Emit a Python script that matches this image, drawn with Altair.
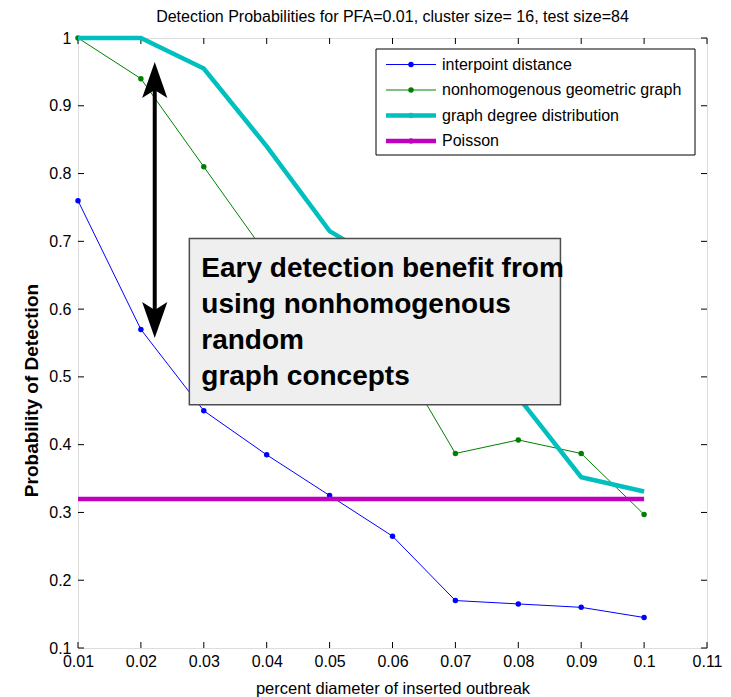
import altair as alt
import pandas as pd

# ---- data ----
x_vals = [0.01, 0.02, 0.03, 0.04, 0.05, 0.06, 0.07, 0.08, 0.09, 0.10]
interpoint = [0.76, 0.57, 0.45, 0.385, 0.325, 0.265, 0.17, 0.165, 0.16, 0.145]
nonhomog = [1.0, 0.94, 0.81, 0.68, 0.61, 0.545, 0.387, 0.407, 0.387, 0.297]
degree = [1.0, 1.0, 0.955, 0.84, 0.715, 0.66, 0.56, 0.47, 0.352, 0.331]
poisson = [0.32, 0.32, 0.32, 0.32, 0.32, 0.32, 0.32, 0.32, 0.32, 0.32]

series_names = ["interpoint distance", "nonhomogenous geometric graph",
                "graph degree distribution", "Poisson"]
series_values = [interpoint, nonhomog, degree, poisson]
series_colors = ["#0000ff", "#008000", "#00bfbf", "#bf00bf"]
series_widths = [1, 1, 4.5, 4.5]
series_dots = [True, True, False, False]

x_ticks = [0.01, 0.02, 0.03, 0.04, 0.05, 0.06, 0.07, 0.08, 0.09, 0.1, 0.11]
y_ticks = [0.1, 0.2, 0.3, 0.4, 0.5, 0.6, 0.7, 0.8, 0.9, 1]

chart_title = "Detection Probabilities for PFA=0.01, cluster size= 16, test size=84"
x_title = "percent diameter of inserted outbreak"
y_title = "Probability of Detection"

note_lines = ["Eary detection benefit from", "using nonhomogenous", "random", "graph concepts"]
note_anchor = [0.0296, 0.648]
note_box_x = [0.0277, 0.0867]
note_box_y = [0.459, 0.704]

arrow_x = [0.0222]
arrow_shaft = [0.945, 0.575]
arrow_heads = [0.938, 0.584]

# ---- layout ----
W, H = 629, 610
FONT = "Liberation Sans"

xscale = alt.Scale(domain=[0.01, 0.11], nice=False, zero=False)
yscale = alt.Scale(domain=[0.1, 1.0], nice=False, zero=False)

x_axis = alt.Axis(values=x_ticks, format="~g", title=x_title, ticks=False, domain=False,
                  grid=False, labelFontSize=16, labelPadding=5, labelColor="black",
                  labelFont=FONT, titleFont=FONT, titleFontSize=16.5, titleFontWeight="normal",
                  titleColor="black", titleY=40, titleBaseline="middle", labelFlush=False)
y_axis = alt.Axis(values=y_ticks, format="~g", title=y_title, ticks=False, domain=False,
                  grid=False, labelFontSize=16, labelPadding=7, labelColor="black",
                  labelFont=FONT, titleFont=FONT, titleFontSize=19, titleFontWeight="bold",
                  titleColor="black", titleX=-47, titleY=352, titleAngle=270,
                  titleAlign="center", titleBaseline="middle", labelFlush=False)


def X(field):
    return alt.X(field, type="quantitative", scale=xscale, axis=x_axis)


def Y(field):
    return alt.Y(field, type="quantitative", scale=yscale, axis=y_axis)


layers = []

# inward ticks (MATLAB style box)
xt = pd.DataFrame({"t": x_ticks})
yt = pd.DataFrame({"t": y_ticks})
rule_style = dict(color="black", strokeWidth=1)
layers.append(alt.Chart(xt).mark_rule(**rule_style).encode(x=X("t"), y=alt.value(H), y2=alt.value(H - 6)))
layers.append(alt.Chart(xt).mark_rule(**rule_style).encode(x=X("t"), y=alt.value(0), y2=alt.value(6)))
layers.append(alt.Chart(yt).mark_rule(**rule_style).encode(y=Y("t"), x=alt.value(0), x2=alt.value(6)))
layers.append(alt.Chart(yt).mark_rule(**rule_style).encode(y=Y("t"), x=alt.value(W), x2=alt.value(W - 6)))

# series
for name, vals, col, wd, dots in zip(series_names, series_values, series_colors,
                                     series_widths, series_dots):
    df = pd.DataFrame({"x": x_vals, "y": vals})
    layers.append(alt.Chart(df).mark_line(color=col, strokeWidth=wd).encode(x=X("x"), y=Y("y")))
    if dots:
        layers.append(alt.Chart(df).mark_circle(color=col, size=30, opacity=1).encode(x=X("x"), y=Y("y")))

# arrow
arr = pd.DataFrame({"x": arrow_x, "y": [arrow_shaft[0]], "y2": [arrow_shaft[1]]})
layers.append(alt.Chart(arr).mark_rule(color="black", strokeWidth=4).encode(
    x=X("x"), y=Y("y"), y2="y2"))
heads = pd.DataFrame({"x": arrow_x * 2, "y": arrow_heads, "dir": ["up", "down"]})
up_path = "M0,-1 L0.7,1 L0,0.55 L-0.7,1 Z"
down_path = "M0,1 L0.7,-1 L0,-0.55 L-0.7,-1 Z"
layers.append(alt.Chart(heads[heads["dir"] == "up"]).mark_point(
    shape=up_path, filled=True, color="black", opacity=1, size=1296, strokeWidth=0).encode(
    x=X("x"), y=Y("y")))
layers.append(alt.Chart(heads[heads["dir"] == "down"]).mark_point(
    shape=down_path, filled=True, color="black", opacity=1, size=1296, strokeWidth=0).encode(
    x=X("x"), y=Y("y")))

# annotation box
box = pd.DataFrame({"x": [note_box_x[0]], "x2": [note_box_x[1]],
                    "y": [note_box_y[0]], "y2": [note_box_y[1]]})
layers.append(alt.Chart(box).mark_rect(fill="#efefef", stroke="#4d4d4d", strokeWidth=1.5).encode(
    x=X("x"), x2="x2", y=Y("y"), y2="y2"))
note = pd.DataFrame({"x": [note_anchor[0]], "y": [note_anchor[1]], "t": ["\n".join(note_lines)]})
layers.append(alt.Chart(note).mark_text(
    align="left", baseline="alphabetic", fontSize=28, fontWeight="bold", font=FONT,
    lineBreak="\n", lineHeight=36, color="black").encode(x=X("x"), y=Y("y"), text="t:N"))

# legend (manual, pixel placed)
leg = pd.DataFrame({"label": series_names, "color": series_colors, "width": series_widths,
                    "ly": [26.5 + 25.5 * i for i in range(len(series_names))]})
layers.append(alt.Chart(leg.head(1)).mark_rect(fill="white", stroke="black", strokeWidth=1).encode(
    x=alt.value(298), x2=alt.value(617), y=alt.value(11), y2=alt.value(117)))
layers.append(alt.Chart(leg).mark_rule().encode(
    x=alt.value(308), x2=alt.value(358), y=alt.Y("ly:Q", scale=None),
    color=alt.Color("color:N", scale=None), strokeWidth=alt.StrokeWidth("width:Q", scale=None)))
layers.append(alt.Chart(leg).mark_circle(size=30, opacity=1).encode(
    x=alt.value(333), y=alt.Y("ly:Q", scale=None), color=alt.Color("color:N", scale=None)))
layers.append(alt.Chart(leg).mark_text(align="left", baseline="middle", fontSize=16, font=FONT,
                                       color="black").encode(
    x=alt.value(364), y=alt.Y("ly:Q", scale=None), text="label:N"))

chart = alt.layer(*layers).properties(
    width=W, height=H,
    title=alt.TitleParams(chart_title, fontSize=16, fontWeight="normal", font=FONT,
                          anchor="middle", color="black", offset=4),
    padding={"left": 70, "top": 30, "right": 16, "bottom": 50},
    autosize=alt.AutoSizeParams(type="none"),
).configure_view(stroke="black", strokeWidth=1).configure(background="white")

chart.save("out.html", embed_options={"renderer": "svg", "actions": False})
